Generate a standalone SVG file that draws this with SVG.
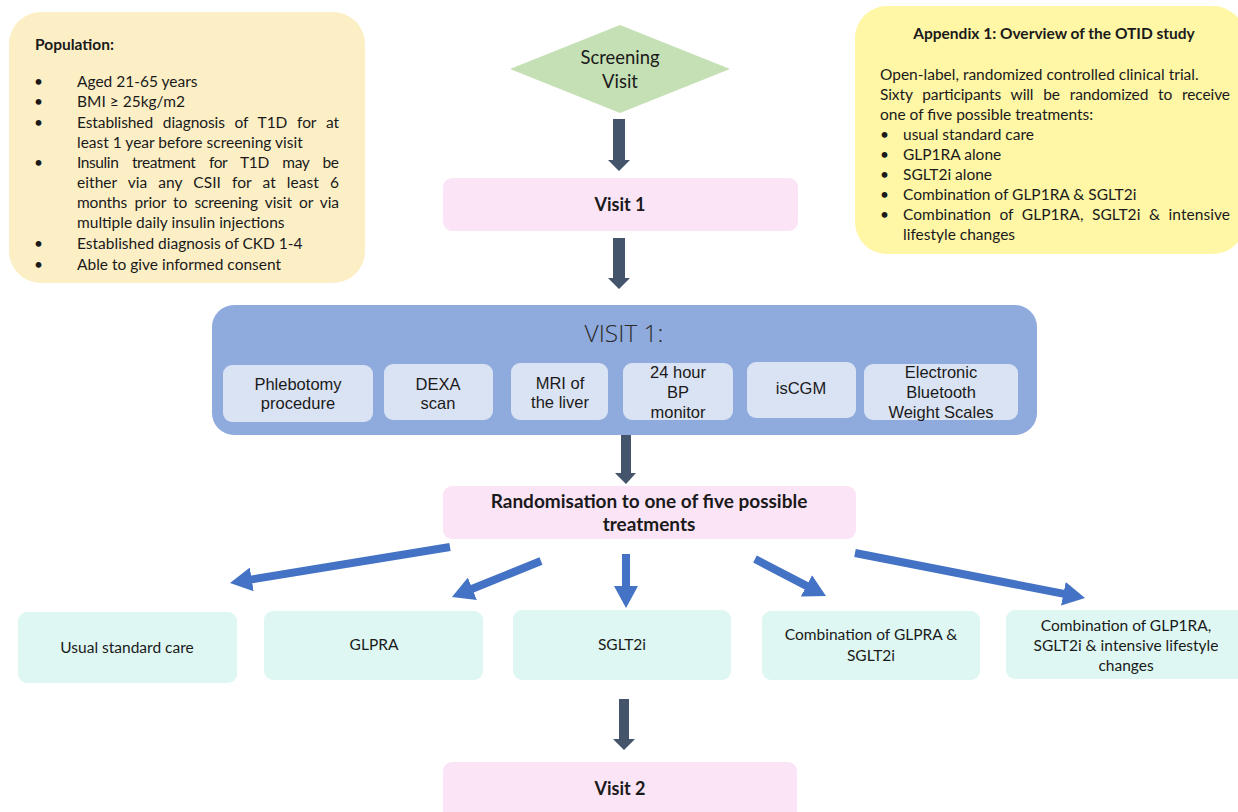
<svg xmlns="http://www.w3.org/2000/svg" width="1238" height="812" viewBox="0 0 1238 812">
<defs>
<style>
.c{font-family:Lato,"Open Sans","Liberation Sans",sans-serif;fill:#1a1a1a}
.a{font-family:"Liberation Sans",Arial,sans-serif;fill:#1a1a1a;font-size:16.5px;text-anchor:middle}
.p{font-size:15.5px}
.b{font-weight:bold}
.m{text-anchor:middle}
.pink{fill:#FCE4F7}
.teal{fill:#DEF7F2}
.inner{fill:#DAE3F3}
.dark{fill:#44546A}
.blue{stroke:#4472C4;stroke-width:8;fill:none;marker-end:url(#bh)}
</style>
<marker id="bh" markerUnits="userSpaceOnUse" markerWidth="24" markerHeight="24" refX="6" refY="12" orient="auto">
<path d="M0,0 L22,12 L0,24 z" fill="#4472C4"/>
</marker>
</defs>
<rect width="1238" height="812" fill="#ffffff"/>

<g id="population">
<rect x="9" y="12" width="356" height="271" rx="32" fill="#FCEFC6"/>
<text class="c b p" x="35" y="50" font-size="16">Population:</text>
<g class="c p">
<text x="34" y="87">•</text><text x="77" y="87">Aged 21-65 years</text>
<text x="34" y="107">•</text><text x="77" y="107">BMI ≥ 25kg/m2</text>
<text x="34" y="128">•</text><text x="77" y="128" word-spacing="6" textLength="262" lengthAdjust="spacing">Established diagnosis of T1D for at</text>
<text x="77" y="148">least 1 year before screening visit</text>
<text x="34" y="168">•</text><text x="77" y="168" word-spacing="10" textLength="262" lengthAdjust="spacing">Insulin treatment for T1D may be</text>
<text x="77" y="188" word-spacing="7" textLength="262" lengthAdjust="spacing">either via any CSII for at least 6</text>
<text x="77" y="208" word-spacing="3.5" textLength="262" lengthAdjust="spacing">months prior to screening visit or via</text>
<text x="77" y="228">multiple daily insulin injections</text>
<text x="34" y="249">•</text><text x="77" y="249">Established diagnosis of CKD 1-4</text>
<text x="34" y="270">•</text><text x="77" y="270">Able to give informed consent</text>
</g>
</g>

<g id="appendix">
<rect x="855" y="6" width="390" height="248" rx="32" fill="#FFF6A6"/>
<text class="c b p m" x="1054" y="39">Appendix 1: Overview of the OTID study</text>
<g class="c p">
<text x="880" y="80">Open-label, randomized controlled clinical trial.</text>
<text x="880" y="100" word-spacing="6" textLength="350" lengthAdjust="spacing">Sixty participants will be randomized to receive</text>
<text x="880" y="120">one of five possible treatments:</text>
<text x="880" y="140">•</text><text x="903" y="140">usual standard care</text>
<text x="880" y="160">•</text><text x="903" y="160">GLP1RA alone</text>
<text x="880" y="180">•</text><text x="903" y="180">SGLT2i alone</text>
<text x="880" y="200">•</text><text x="903" y="200">Combination of GLP1RA &amp; SGLT2i</text>
<text x="880" y="220">•</text><text x="903" y="220" word-spacing="4.5" textLength="327" lengthAdjust="spacing">Combination of GLP1RA, SGLT2i &amp; intensive</text>
<text x="903" y="240">lifestyle changes</text>
</g>
</g>

<g id="screening">
<polygon points="510,69 620,25 730,69 620,113" fill="#C5E0B4"/>
<text class="c m" x="620" y="64" font-size="18.4" fill="#333">Screening</text>
<text class="c m" x="620" y="88" font-size="18.4" fill="#333">Visit</text>
</g>

<g id="visit1">
<rect class="pink" x="443" y="178" width="355" height="53" rx="9"/>
<text class="c b m" x="620" y="211" font-size="18">Visit 1</text>
</g>

<g id="visit1-detail">
<rect x="212" y="305" width="825" height="130" rx="22" fill="#8FAADC"/>
<text x="624" y="342" text-anchor="middle" font-family="'Open Sans','Noto Sans',sans-serif" font-weight="300" font-size="24.5" fill="#2a2a2a">VISIT 1:</text>
<g id="phlebotomy"><rect class="inner" x="223" y="365" width="150" height="57" rx="9"/>
<text class="a" x="298" y="390">Phlebotomy</text><text class="a" x="298" y="409">procedure</text></g>
<g id="dexa"><rect class="inner" x="384" y="364" width="109" height="56" rx="9"/>
<text class="a" x="438" y="390">DEXA</text><text class="a" x="438" y="409">scan</text></g>
<g id="mri"><rect class="inner" x="511" y="363" width="97" height="57" rx="9"/>
<text class="a" x="560" y="389">MRI of</text><text class="a" x="560" y="408">the liver</text></g>
<g id="bp"><rect class="inner" x="623" y="363" width="110" height="57" rx="9"/>
<text class="a" x="678" y="378">24 hour</text><text class="a" x="678" y="398">BP</text><text class="a" x="678" y="418">monitor</text></g>
<g id="iscgm"><rect class="inner" x="747" y="362" width="109" height="56" rx="9"/>
<text class="a" x="801" y="394">isCGM</text></g>
<g id="scales"><rect class="inner" x="864" y="364" width="154" height="56" rx="9"/>
<text class="a" x="941" y="378">Electronic</text><text class="a" x="941" y="398">Bluetooth</text><text class="a" x="941" y="418">Weight Scales</text></g>
</g>

<g id="randomisation">
<rect class="pink" x="443" y="486" width="413" height="53" rx="9"/>
<text class="c b m" x="649" y="508" font-size="19">Randomisation to one of five possible</text>
<text class="c b m" x="649" y="531" font-size="19">treatments</text>
</g>

<g id="usual"><rect class="teal" x="18" y="612" width="219" height="71" rx="9"/>
<text class="c p m" x="127" y="653">Usual standard care</text></g>
<g id="glpra"><rect class="teal" x="264" y="611" width="219" height="69" rx="9"/>
<text class="c p m" x="374" y="650">GLPRA</text></g>
<g id="sglt2i"><rect class="teal" x="513" y="610" width="218" height="70" rx="9"/>
<text class="c p m" x="622" y="650">SGLT2i</text></g>
<g id="combo"><rect class="teal" x="762" y="611" width="218" height="69" rx="9"/>
<text class="c p m" x="871" y="640">Combination of GLPRA &amp;</text>
<text class="c p m" x="871" y="661">SGLT2i</text></g>
<g id="combo-lifestyle"><rect class="teal" x="1006" y="610" width="245" height="69" rx="9"/>
<text class="c p m" x="1126" y="631">Combination of GLP1RA,</text>
<text class="c p m" x="1126" y="651">SGLT2i &amp; intensive lifestyle</text>
<text class="c p m" x="1126" y="671">changes</text></g>

<g id="visit2">
<rect class="pink" x="443" y="762" width="354" height="60" rx="9"/>
<text class="c b m" x="620" y="795" font-size="18">Visit 2</text>
</g>

<g id="connectors">
<polygon class="dark" points="613,119 625,119 625,160 630,160 619,171 608,160 613,160"/>
<polygon class="dark" points="613,238 625,238 625,278 630,278 619,289 608,278 613,278"/>
<polygon class="dark" points="621,435 631,435 631,473 636,473 626,484 615,473 621,473"/>
<polygon class="dark" points="619,699 629,699 629,739 635,739 624,750 613,739 619,739"/>
<line class="blue" x1="450" y1="547" x2="245.8" y2="580.4"/>
<line class="blue" x1="541" y1="561" x2="466.8" y2="591"/>
<line class="blue" x1="626" y1="554" x2="626" y2="592"/>
<line class="blue" x1="755" y1="559" x2="811.8" y2="588.6"/>
<line class="blue" x1="855" y1="553" x2="1069.3" y2="594.9"/>
</g>
</svg>
